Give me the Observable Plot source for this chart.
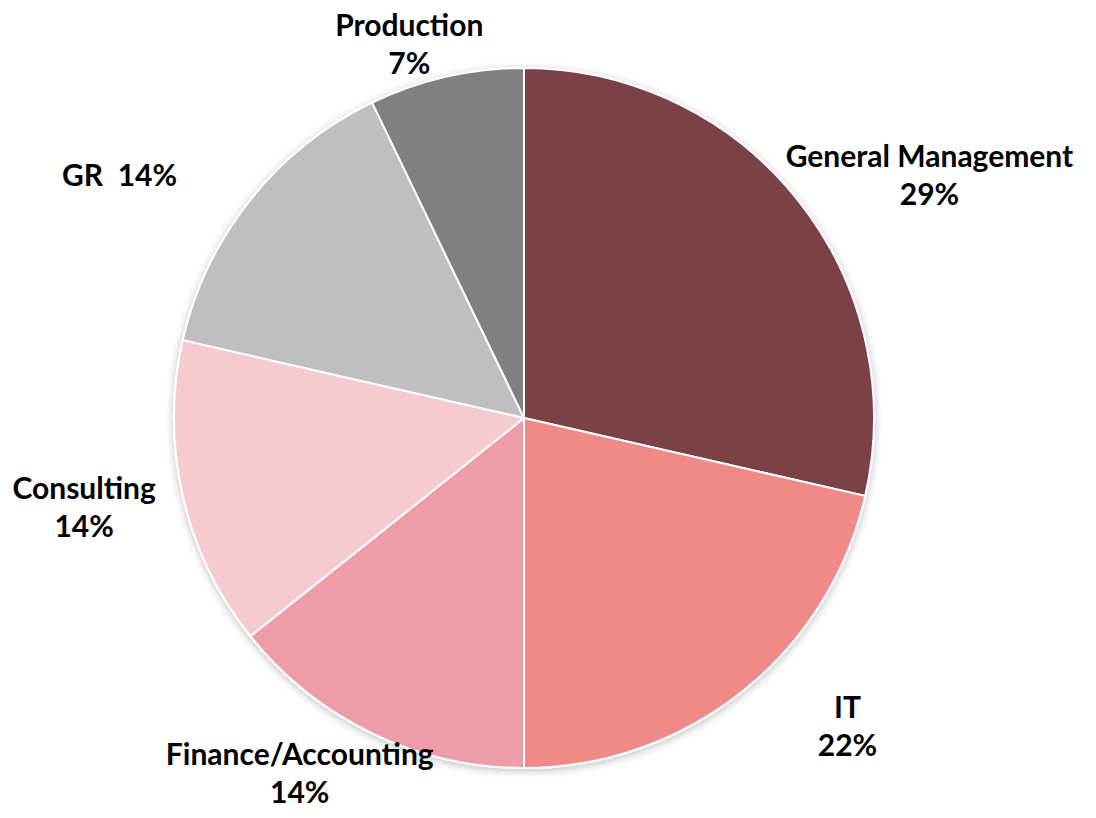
<!DOCTYPE html>
<html>
<head>
<meta charset="utf-8">
<script src="https://cdn.jsdelivr.net/npm/d3@7"></script>
<script src="https://cdn.jsdelivr.net/npm/@observablehq/plot@0.6"></script>
<style>
  html, body { margin: 0; padding: 0; background: #ffffff; }
  #chart svg { display: block; }
</style>
</head>
<body>
<div id="chart"></div>
<script>
// ---- data ----
const categories = ["General Management", "IT", "Finance/Accounting", "Consulting", "GR", "Production"];
const values = [4, 3, 2, 2, 2, 1];
const percentLabels = ["29%", "22%", "14%", "14%", "14%", "7%"];
const singleLineLabels = ["GR"];
const colors = ["#7b3f47", "#f08a88", "#ee9ca7", "#f6cbd0", "#bfbfbf", "#808080"];

// ---- layout ----
const WIDTH = 1096, HEIGHT = 818;
const X_RANGE = [174, 874], Y_RANGE = [768, 68];
const FONT_FAMILY = "Lato, 'Open Sans', sans-serif";
const FONT_SIZE = 30;
const LINE_HEIGHT = 1.27;
const LABEL_RX = 1.48, LABEL_RY = 1.12; // label ellipse, in units of the pie radius
const EDGE_X = 12, EDGE_Y = 4; // px kept free at the picture edges

const data = categories.map((category, i) => ({
  category,
  value: values[i],
  label: category + (singleLineLabels.includes(category) ? "  " : "\n") + percentLabels[i]
}));

const colorScale = Plot.scale({color: {type: "ordinal", domain: categories, range: colors}});
const xs = Plot.scale({x: {domain: [-1, 1], range: X_RANGE}});
const ys = Plot.scale({y: {domain: [-1, 1], range: Y_RANGE}});

const pie = d3.pie().sort(null).value(d => d.value)(data);

// measure label widths
const ctx = document.createElement("canvas").getContext("2d");
ctx.font = `bold ${FONT_SIZE}px ${FONT_FAMILY}`;

const labelData = pie.map(a => {
  const theta = (a.startAngle + a.endAngle) / 2;
  const lines = a.data.label.split("\n");
  const w = d3.max(lines, l => ctx.measureText(l).width);
  const h = lines.length * FONT_SIZE * LINE_HEIGHT;
  // pixel position on the label ellipse, clamped inside the picture
  let px = xs.apply(LABEL_RX * Math.sin(theta));
  let py = ys.apply(LABEL_RY * Math.cos(theta));
  px = Math.max(EDGE_X + w / 2, Math.min(WIDTH - EDGE_X - w / 2, px));
  py = Math.max(EDGE_Y + h / 2, Math.min(HEIGHT - EDGE_Y - h / 2, py));
  return {label: a.data.label, x: xs.invert(px), y: ys.invert(py)};
});

function pieMark(index, scales, values, dimensions, context) {
  const cx = scales.x(0), cy = scales.y(0);
  const r = scales.x(1) - scales.x(0);
  const g = d3.create("svg:g");
  const defs = g.append("defs");
  const f = defs.append("filter").attr("id", "pieShadow").attr("x", "-20%").attr("y", "-20%").attr("width", "140%").attr("height", "140%");
  f.append("feDropShadow").attr("dx", 0).attr("dy", 2).attr("stdDeviation", 4).attr("flood-color", "#000").attr("flood-opacity", 0.25);
  const arc = d3.arc().innerRadius(0).outerRadius(r);
  const inner = g.append("g").attr("transform", `translate(${cx},${cy})`).attr("filter", "url(#pieShadow)");
  inner.selectAll("path")
    .data(pie)
    .join("path")
    .attr("d", arc)
    .attr("fill", d => colorScale.apply(d.data.category))
    .attr("stroke", "#ffffff")
    .attr("stroke-width", 2)
    .attr("stroke-linejoin", "round");
  return g.node();
}

const chart = Plot.plot({
  width: WIDTH,
  height: HEIGHT,
  margin: 0,
  x: {domain: [-1, 1], range: X_RANGE, axis: null},
  y: {domain: [-1, 1], range: Y_RANGE, axis: null},
  style: {background: "#ffffff"},
  marks: [
    pieMark,
    Plot.text(labelData, {
      x: "x",
      y: "y",
      text: "label",
      textAnchor: "middle",
      lineAnchor: "middle",
      lineHeight: LINE_HEIGHT,
      fontSize: FONT_SIZE,
      fontWeight: "bold",
      fontFamily: FONT_FAMILY,
      fill: "#000000"
    })
  ]
});

document.getElementById("chart").appendChild(chart);
</script>
</body>
</html>
